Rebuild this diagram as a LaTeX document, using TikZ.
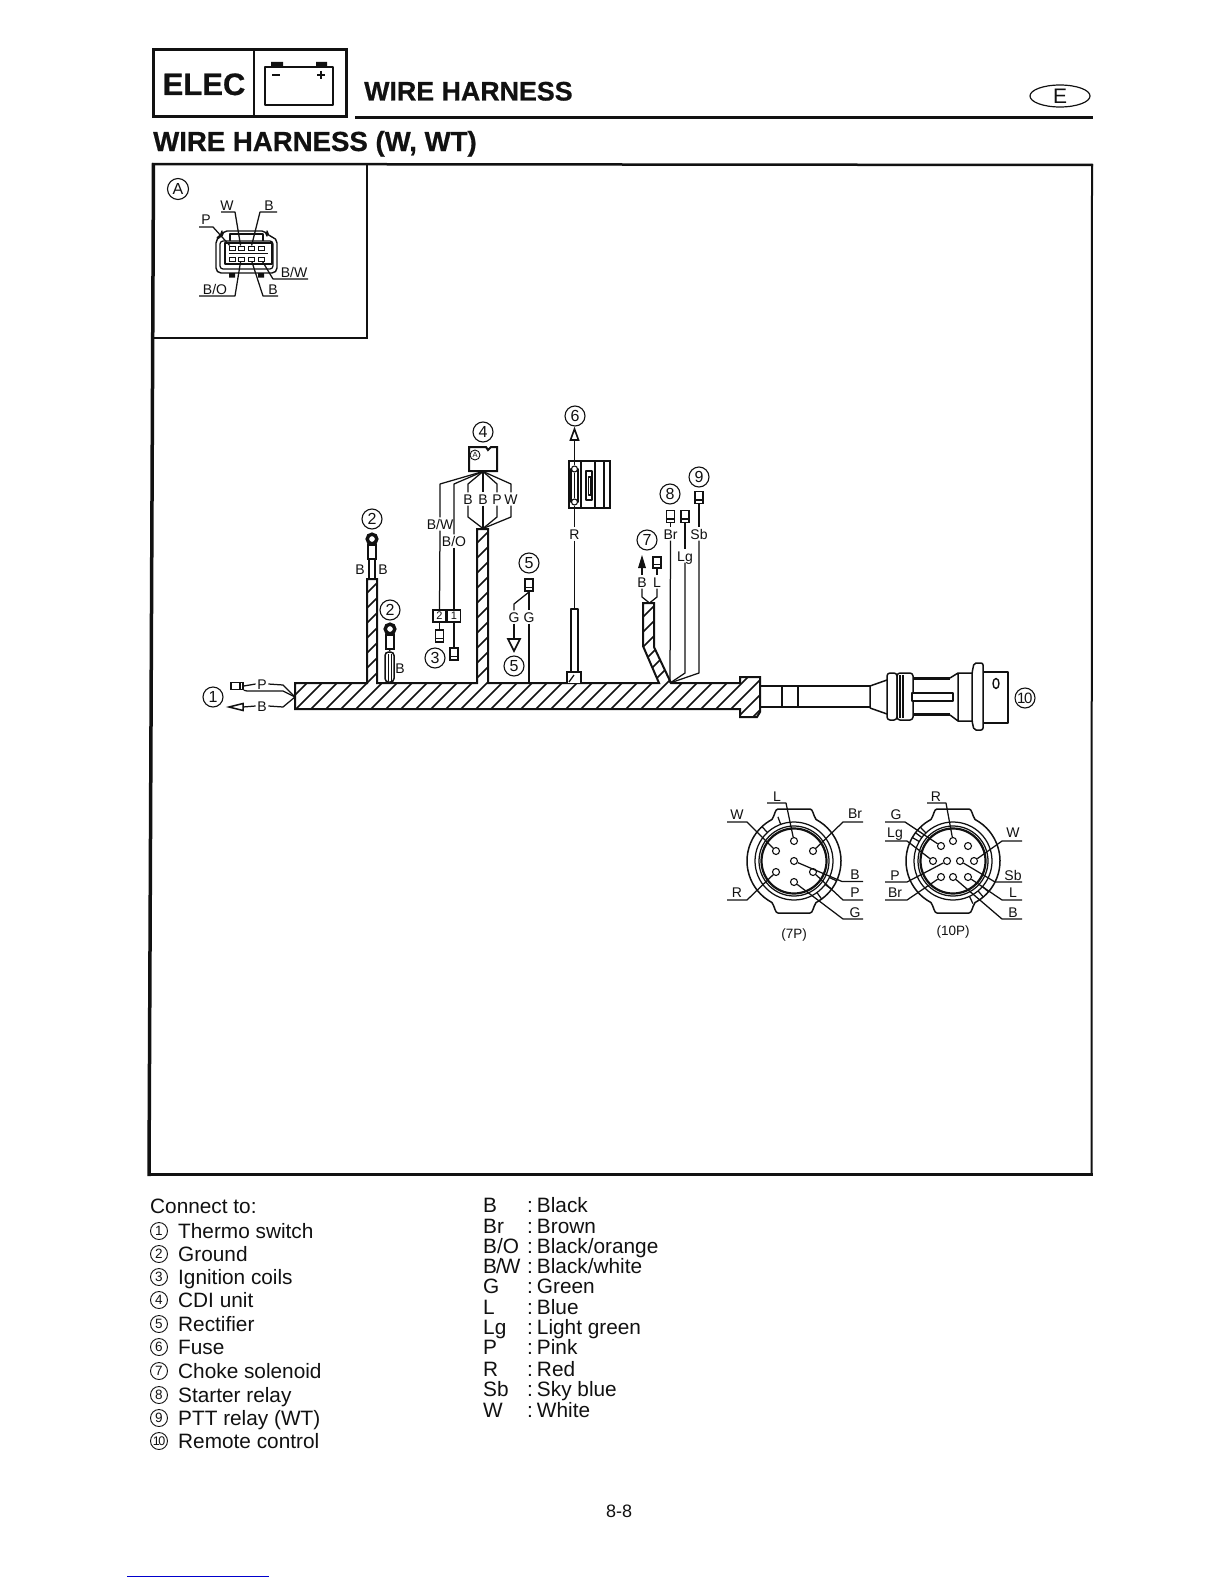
\documentclass[tikz,border=0pt]{standalone}
\usepackage{fontspec}
\usetikzlibrary{shapes.geometric}
\setmainfont{Liberation Sans}[BoldFeatures={FakeBold=0.6}]
\newcommand\szf[1]{\fontsize{#1}{#1}\selectfont}
\definecolor{ink}{HTML}{111111}
\newcommand\leadr[4]{\coordinate (#4a) at (#2);\coordinate (#4b) at (#3);\draw[wire] (#1) -- (#4a) -- (#4b);}
\tikzset{
  wire/.style={line width=1.25,draw=ink,line join=round},
  heavy/.style={line width=2,draw=ink,line join=miter},
  lab/.style={font=\szf{14},inner sep=1.5,text height=10pt,text depth=0pt,text=ink},
  num/.style={circle,draw=ink,line width=1.1,minimum size=20,inner sep=0,font=\szf{16},text=ink},
  lnum/.style={circle,draw=ink,line width=0.9,minimum size=17,inner sep=0,font=\szf{13.5},text=ink},
  lst/.style={anchor=base west,inner sep=0,font=\szf{20.8},text=ink},
  term/.style={draw=ink,line width=1.4,minimum width=8,minimum height=12,inner sep=0,
     path picture={\draw[line width=1.1,draw=ink] ([yshift=3.5pt]path picture bounding box.south west) -- ([yshift=3.5pt]path picture bounding box.south east);}},
  pinc/.style={circle,draw=ink,line width=1.1,minimum size=7,inner sep=0,fill=white},
  gpin/.style={draw=ink,line width=1,minimum width=6,minimum height=4,inner sep=0},
  pcap/.style={font=\szf{13.5},inner sep=0,text=ink},
  numbox/.style={draw=ink,line width=1.3,minimum width=13,minimum height=12,inner sep=0,font=\szf{11},text=ink},
}
\newcommand\shell{%
  \draw[wire,line width=1.5] (-16,-52) -- (16,-52) .. controls (19,-52) and (19,-46) .. (-62:47)
    arc[start angle=-62,end angle=62,radius=47] .. controls (19,46) and (19,52) .. (16,52)
    -- (-16,52) .. controls (-19,52) and (-19,46) .. (118:47)
    arc[start angle=118,end angle=242,radius=47] .. controls (-19,-46) and (-19,-52) .. cycle;
  \draw[wire] (0,0) circle[radius=39];
  \draw[wire] (0,0) circle[radius=35];
  \draw[wire,line width=2.2] (0,0) circle[radius=32.5];}
\begin{document}
\begin{tikzpicture}[x=1pt,y=-1pt]
\useasboundingbox (0,0) rectangle (1224,1584);
\fill[white] (0,0) rectangle (1224,1584);

% ---------- header
\draw[draw=ink,line width=3] (153.5,49.5) rectangle (346,117);
\draw[draw=ink,line width=2.5] (254,49.5) -- (254,117);
\node[anchor=base,inner sep=0,font=\bfseries\szf{31},text=ink] (elec) at (204,95) {ELEC};
\draw[wire,line width=1.4] (265,67) rectangle (333,105);
\fill[ink] (271,62) rectangle (283,67) (316,62) rectangle (327,67);
\draw[draw=ink,line width=1.5] (272,75) -- (280,75) (317,75) -- (325,75) (321,71) -- (321,79);
\node[anchor=base west,inner sep=0,font=\bfseries\szf{26.8},text=ink] (sect) at (364,100.5) {WIRE HARNESS};
\draw[draw=ink,line width=3] (355,118) -- (1093,118);
\node[ellipse,draw=ink,line width=1.2,minimum width=60,minimum height=22,inner sep=0,font=\szf{21},text=ink] (lang) at (1060,96) {E};
\node[anchor=base west,inner sep=0,font=\bfseries\szf{27.6},text=ink] (title) at (153,151) {WIRE HARNESS (W, WT)};

% ---------- frame
\draw[draw=ink,line width=2.5] (152,164) -- (1093,165);
\draw[draw=ink,line width=2] (1092,164) -- (1091.5,1175.5);
\draw[draw=ink,line width=3.2] (148,1174.5) -- (1092.5,1174.5);
\draw[draw=ink,line width=3.5] (153.5,163) -- (149,1176);
\draw[draw=ink,line width=1.5] (367,164) -- (367,338) -- (154,338);

% ---------- inset A
\node[num,minimum size=21] (insetA) at (178,189) {A};
\draw[wire,rounded corners=5,line width=1.4] (216,238) -- (222,236) -- (222,231) -- (267,231) -- (267,236) -- (277,238) -- (277,273) -- (216,273) -- cycle;
\draw[wire,rounded corners=3] (220,241) rectangle (273,269);
\draw[wire] (230,241) -- (230,234) -- (263,234) -- (263,241);
\draw[wire] (225,243) rectangle (272,264);
\draw[wire] (229,253.5) -- (268,253.5);
\fill[ink] (229,273) rectangle (235,277.5) (258,273) rectangle (264,277.5);
\foreach \n/\x in {1/232,2/241,3/251,4/261}{
  \node[gpin] (pa\n) at (\x,248) {};
  \node[gpin] (pb\n) at (\x,259) {};}
\node[lab,inner sep=0] at (227,205) {W};
\node[lab,inner sep=0] at (269,205) {B};
\node[lab,inner sep=0] at (206,219) {P};
\node[lab,inner sep=0] at (294,272) {B/W};
\node[lab,inner sep=0] at (273,289) {B};
\node[lab,inner sep=0] at (215,289) {B/O};
\leadr{pa2}{235,212}{221,212}{iw}
\leadr{pa3}{260,212}{277,212}{ib}
\coordinate (ipm) at (213,227);\coordinate (ipe) at (199,227);
\draw[wire] (pa1) -- (ipm) -- (ipe);
\leadr{pb4}{273,279}{308,279}{ibw}
\leadr{pb3}{263,296}{278,296}{ib2}
\leadr{pb2}{235,296}{199,296}{ibo}

% ---------- harness
\def\harness{(295,683) -- (367,683) -- (367,579) -- (377,579) -- (377,683) -- (477,683) -- (477,529) -- (488,529) -- (488,683)
  -- (659,683) -- (643,646) -- (643,603) -- (654,603) -- (654,647) -- (671,683) -- (740,683) -- (740,677) -- (760,677)
  -- (760,712) -- (757,717) -- (740,717) -- (740,709) -- (295,709) -- cycle}
\begin{scope}
  \clip \harness;
  \foreach \k in {900,915,...,1500}{\draw[draw=ink,line width=1.6] ({\k-800},800) -- ({\k-300},300);}
\end{scope}
\draw[heavy] \harness;
% flared sleeve for fuse wire
\draw[heavy,fill=white] (567,683) -- (567,672) -- (581,672) -- (581,683);
\draw[wire] (569,682) -- (574,675);
\draw[wire,line width=1.5] (571,672) rectangle (578,609);

% ---------- thermo switch (1)
\node[num] (n1) at (213,697) {1};
\node[draw=ink,line width=1.4,minimum width=12,minimum height=7,inner sep=0] (t1) at (237,686) {};
\draw[wire] (240,682.5) -- (240,689.5);
\node[lab] (lP) at (262,684) {P};
\node[lab] (lB1) at (262,706) {B};
\coordinate (hj) at (295,697);
\coordinate (pk) at (283,685);\coordinate (bk) at (283,707);
\coordinate (pd) at (247,691);\coordinate (pe) at (283,691);
\draw[wire] (t1.east) -- (lP.west);
\draw[wire] (t1.south east) -- (pd) -- (pe) -- (hj);
\draw[wire] (lP.east) -- (pk) -- (hj);
\draw[wire] (lB1.east) -- (bk) -- (hj);
\coordinate (a1t) at (229,707);\coordinate (a1b) at (243,707);
\draw[wire,line width=1.5,fill=white,line join=miter] (a1t) -- (243,703.5) -- (243,710.5) -- cycle;
\draw[wire] (a1b) -- (lB1.west);

% ---------- grounds (2)
\node[num] (n2a) at (372,519) {2};
\draw[draw=ink,line width=3.4] (372,539) circle[radius=4.8];
\node[draw=ink,line width=1.3,minimum width=8,minimum height=14,inner sep=0] (s2a) at (372,552) {};
\coordinate (g1a) at (369,559);\coordinate (g1b) at (369,579);
\coordinate (g2a) at (375,559);\coordinate (g2b) at (375,579);
\draw[wire] (g1a) -- (g1b) (g2a) -- (g2b);
\node[lab,inner sep=0] at (360,569) {B};
\node[lab,inner sep=0] at (383,569) {B};
\node[num] (n2b) at (390,610) {2};
\draw[draw=ink,line width=3.4] (390,629) circle[radius=4.8];
\node[draw=ink,line width=1.3,minimum width=8,minimum height=14,inner sep=0] (s2b) at (390,642) {};
\node[draw=ink,line width=1.5,rounded corners=3.5,minimum width=9,minimum height=30,inner sep=0] (tube) at (389.5,667) {};
\draw[wire] (s2b.south) -- (tube.north);
\draw[draw=ink,line width=1] (388,654) -- (388,681) (391,654) -- (391,681);
\node[lab,inner sep=0] at (400,668) {B};

% ---------- CDI (4)
\node[num] (n4) at (483,432) {4};
\draw[heavy] (469,447) -- (486,447) -- (488,450) -- (491,447) -- (497,447) -- (497,471) -- (469,471) -- cycle;
\node[circle,draw=ink,line width=0.9,minimum size=10,inner sep=0,font=\szf{7.5},text=ink] (cA) at (475,455) {A};
\coordinate (cdi) at (483,471.5);
\coordinate (hcdi) at (483,528.5);
\node[lab] (lbw) at (440,524) {B/W};
\node[lab] (lbo) at (454,541) {B/O};
\node[lab] (l4a) at (468,499) {B};
\node[lab] (l4b) at (483,499) {B};
\node[lab] (l4c) at (497,499) {P};
\node[lab] (l4d) at (511,499) {W};
\coordinate (bwk) at (440,484);\coordinate (bok) at (454,484);
\draw[wire] (cdi) -- (bwk) -- (lbw.north);
\draw[wire] (cdi) -- (bok) -- (lbo.north);
\coordinate (k1) at (468,484);\coordinate (k2) at (468,517);
\coordinate (k3) at (497,484);\coordinate (k4) at (497,517);
\coordinate (k5) at (511,484);\coordinate (k6) at (511,517);
\draw[wire] (cdi) -- (k1) -- (l4a.north) (l4a.south) -- (k2) -- (hcdi);
\draw[wire] (cdi) -- (l4b.north) (l4b.south) -- (hcdi);
\draw[wire] (cdi) -- (k3) -- (l4c.north) (l4c.south) -- (k4) -- (hcdi);
\draw[wire] (cdi) -- (k5) -- (l4d.north) (l4d.south) -- (k6) -- (hcdi);

% ---------- ignition coils (3)
\node[numbox] (b2) at (439.5,616) {2};
\node[numbox] (b1) at (454,616) {1};
\draw[wire] (lbw.south) -- (b2.north);
\draw[wire] (lbo.south) -- (b1.north);
\node[term] (t3a) at (439.5,636) {};
\node[term] (t3b) at (454,654) {};
\draw[wire] (b2) -- (t3a);
\draw[wire] (b1) -- (t3b);
\node[num] (n3) at (435,658) {3};

% ---------- rectifier (5)
\node[num] (n5a) at (529,563) {5};
\node[term] (t5) at (529,585) {};
\node[lab] (lg1) at (514,617) {G};
\node[lab] (lg2) at (529,617) {G};
\coordinate (g5k) at (514,604);
\coordinate (g5j) at (529,592);
\draw[wire] (t5) -- (lg2.north);
\draw[wire] (g5j) -- (g5k) -- (lg1.north);
\coordinate (g5h) at (529,683);
\draw[wire] (lg2.south) -- (g5h);
\coordinate (a5) at (514,639);
\draw[wire] (lg1.south) -- (a5);
\draw[wire,line width=1.6,fill=white,line join=miter] (508,639) -- (520,639) -- (514,651) -- cycle;
\node[num] (n5b) at (514,666) {5};

% ---------- fuse (6)
\node[num] (n6) at (575,416) {6};
\coordinate (a6) at (574.5,440);
\draw[wire,line width=1.6,fill=white,line join=miter] (570.5,440) -- (578.5,440) -- (574.5,429) -- cycle;
\node[lab] (lR) at (574.5,534) {R};
\draw[heavy,line width=1.6] (569,461) rectangle (610,508);
\draw[draw=ink,line width=2] (581,461) -- (581,508);
\draw[wire] (595,461) -- (595,508) (604,461) -- (604,508);
\draw[wire] (571,469) rectangle (578,502);
\node[pinc,minimum size=6] (f1) at (574.5,469) {};
\node[pinc,minimum size=6] (f2) at (574.5,502) {};
\draw[wire] (586,471) rectangle (592,500);
\draw[wire] (588.5,477) rectangle (591,495);
\draw[wire] (a6) -- (f1);
\draw[wire] (f1) -- (f2);
\draw[wire] (f2) -- (lR.north);
\coordinate (s6) at (574.5,609);
\draw[wire] (lR.south) -- (s6);

% ---------- choke solenoid (7)
\node[num] (n7) at (647,540) {7};
\node[lab] (lb7) at (642,582) {B};
\node[lab] (ll7) at (657,582) {L};
\coordinate (h7) at (649.5,603);
\coordinate (k7a) at (642,597);\coordinate (k7b) at (657,597);
\draw[wire] (lb7.south) -- (k7a) -- (h7);
\draw[wire] (ll7.south) -- (k7b) -- (h7);
\coordinate (a7) at (642,568);
\fill[ink] (638,568) -- (646,568) -- (642,555) -- cycle;
\draw[wire] (a7) -- (lb7.north);
\node[term,minimum height=11] (t7) at (657,562.5) {};
\draw[wire] (t7) -- (ll7.north);

% ---------- starter relay (8), PTT (9)
\node[num] (n8) at (670,494) {8};
\node[num] (n9) at (699,477) {9};
\node[term] (t8a) at (670.5,516.5) {};
\node[term] (t8b) at (685,516.5) {};
\node[term] (t9) at (699,497.5) {};
\node[lab] (lBr) at (670.5,534) {Br};
\node[lab] (lLg) at (685,556) {Lg};
\node[lab] (lSb) at (699,534) {Sb};
\coordinate (hj8) at (670,683);
\coordinate (k8) at (685,673);\coordinate (k9) at (699,673);
\draw[wire] (t8a) -- (lBr.north);
\draw[wire] (t8b) -- (lLg.north);
\draw[wire] (t9) -- (lSb.north);
\draw[wire] (lBr.south) -- (hj8);
\draw[wire] (lLg.south) -- (k8) -- (hj8);
\draw[wire] (lSb.south) -- (k9) -- (hj8);

% ---------- remote control plug (10)
\draw[heavy,line width=1.5] (760,686) -- (870,686) (760,707) -- (870,707);
\draw[wire,line width=1.5] (782,686) -- (782,707) (798,686) -- (798,707);
\draw[heavy,line width=1.5] (870,686) -- (870,708) (870,686) -- (887,680) (870,708) -- (887,714);
\draw[wire,line width=1.5,rounded corners=3] (887,673) rectangle (897,720);
\draw[wire,line width=1.5,rounded corners=3] (897,673) rectangle (913,720);
\draw[wire] (900,675) -- (900,718) (903,675) -- (903,718);
\draw[draw=ink,line width=2.5] (914,678.5) -- (950,678.5) (914,714.5) -- (950,714.5);
\draw[wire,line width=1.5] (950,678) -- (958,673) -- (972,673) (950,715) -- (958,721) -- (972,721) (958,673) -- (958,721);
\draw[wire,line width=1.5,fill=white] (912,693) rectangle (953,701);
\draw[wire,line width=1.5,rounded corners=2] (972,673) -- (974,663) -- (983,663) -- (983,730) -- (974,730) -- (972,721) -- cycle;
\draw[wire,line width=1.5] (983,672) -- (1008,672) -- (1008,723) -- (983,723);
\draw[wire,line width=1.4] (996,683.5) ellipse[x radius=3,y radius=5];
\node[num,font=\szf{15}] (n10) at (1025,698) {\kern-0.5pt1\kern-1.5pt0};

% ---------- 7P connector
\begin{scope}[shift={(794,861)}]
  \shell
  \foreach \a in {-110,-133,25,37,54}{\draw[wire] (\a:39) -- (\a:47);}
\end{scope}
\foreach \n/\x/\y in {1/794/841,2/776/851,3/813/851,4/794/861,5/776/872,6/813/872,7/794/882}{\node[pinc] (s\n) at (\x,\y) {};}
\node[lab,inner sep=0] at (777,796) {L};
\node[lab,inner sep=0] at (737,814) {W};
\node[lab,inner sep=0] at (855,813) {Br};
\node[lab,inner sep=0] at (737,892) {R};
\node[lab,inner sep=0] at (855,874) {B};
\node[lab,inner sep=0] at (855,892) {P};
\node[lab,inner sep=0] at (855,912) {G};
\leadr{s1}{786,803}{767,803}{sl}
\leadr{s2}{747,822}{727,822}{sw}
\leadr{s3}{843,822}{863,822}{sbr}
\leadr{s5}{747,900}{727,900}{sr}
\leadr{s4}{842,881.5}{863,881.5}{sb}
\leadr{s6}{843,900}{863,900}{sp}
\leadr{s7}{843,919}{863,919}{sg}
\node[pcap] (c7) at (794,935) {(7P)};

% ---------- 10P connector
\begin{scope}[shift={(953,861)}]
  \shell
  \foreach \a in {-134,-143,-150,41,50,65}{\draw[wire] (\a:39) -- (\a:47);}
\end{scope}
\foreach \n/\x/\y in {1/953/841,2/941/846,3/968/846,4/933/861,5/947/861,6/960/861,7/974/861,8/941/877,9/953/877,10/968/877}{\node[pinc] (q\n) at (\x,\y) {};}
\node[lab,inner sep=0] at (936,796) {R};
\node[lab,inner sep=0] at (896,814) {G};
\node[lab,inner sep=0] at (895,832) {Lg};
\node[lab,inner sep=0] at (1013,832) {W};
\node[lab,inner sep=0] at (895,875) {P};
\node[lab,inner sep=0] at (895,892) {Br};
\node[lab,inner sep=0] at (1013,875) {Sb};
\node[lab,inner sep=0] at (1013,892) {L};
\node[lab,inner sep=0] at (1013,912) {B};
\leadr{q1}{946,803}{927,803}{qr}
\leadr{q2}{905,822}{885,822}{qg}
\leadr{q4}{907,841}{885,841}{qlg}
\leadr{q7}{1002,841}{1022,841}{qw}
\leadr{q5}{907,882}{885,882}{qp}
\leadr{q8}{907,900}{885,900}{qbr}
\leadr{q6}{995,882}{1022,882}{qsb}
\leadr{q10}{1002,900}{1022,900}{ql}
\leadr{q9}{1002,919}{1022,919}{qb}
\node[pcap] (c10) at (953,932) {(10P)};

% ---------- legend left
\node[lst] (conn) at (150,1213) {Connect to:};
\foreach \n/\y/\t in {1/1238/{Thermo switch},2/1261/{Ground},3/1284/{Ignition coils},4/1307/{CDI unit},5/1331/{Rectifier},6/1354/{Fuse},7/1378/{Choke solenoid},8/1402/{Starter relay},9/1425/{PTT relay (WT)}}{
  \node[lnum] (lc\n) at (159,\y-7) {\n};
  \node[lst] (lt\n) at (178,\y) {\t};}
\node[lnum,font=\szf{12.5}] (lc10) at (159,1441) {1\kern-1.5pt0};
\node[lst] (lt10) at (178,1448) {Remote control};

% ---------- legend right
\foreach \n/\y/\c/\t in {a/1212/B/Black,b/1233/Br/Brown,c/1253/B\slash O/Black\slash orange,d/1273/B\kern-1pt\slash\kern-1pt W/Black\slash white,e/1293/G/Green,f/1314/L/Blue,g/1334/Lg/Light green,h/1354/P/Pink,i/1376/R/Red,j/1396/Sb/Sky blue,k/1417/W/White}{
  \node[lst] (kc\n) at (483,\y) {\c};
  \node[lst] (kt\n) at (527,\y) {:\kern4pt\t};}

\node[anchor=base,inner sep=0,font=\szf{18},text=ink] (page) at (619,1517) {8-8};
\draw[draw=blue!80!black,line width=1] (127,1576) -- (269,1576);
\end{tikzpicture}
\end{document}
